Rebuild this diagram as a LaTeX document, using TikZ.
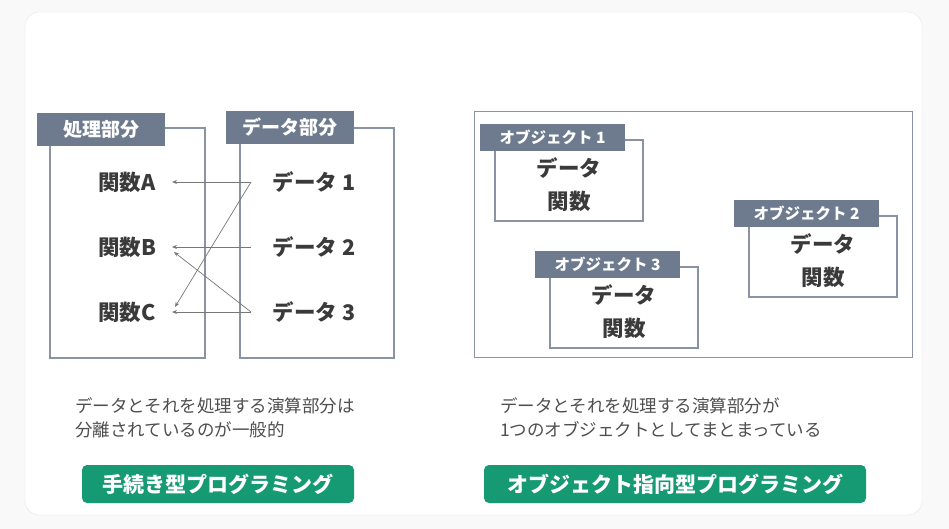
\documentclass[tikz,border=0pt]{standalone}
\usepackage{fontspec}
\setmainfont{Noto Sans CJK JP}
\newcommand\jpb{\bfseries}
\usetikzlibrary{arrows.meta}
\definecolor{lab}{HTML}{6E7B8F}
\definecolor{frm}{HTML}{8A93A3}
\definecolor{grn}{HTML}{159A74}
\definecolor{txt}{HTML}{3A3A3A}
\definecolor{arr}{HTML}{777777}
\tikzset{
 frame/.style={draw=frm,line width=1.4pt},
 labbox/.style={text=white,font=\jpb\fontsize{19}{19}\selectfont,anchor=center},
 objlab/.style={text=white,font=\jpb\fontsize{15.5}{15.5}\selectfont},
 item/.style={text=txt,font=\jpb\fontsize{21.5}{21.5}\selectfont},
 captext/.style={text=txt!90,font=\fontsize{17.5}{24}\selectfont,anchor=north west,align=left,inner sep=0},
 btntext/.style={text=white,font=\jpb\fontsize{21}{21}\selectfont},
 con/.style={draw=arr,line width=0.7pt,-{Stealth[length=5pt,width=4pt]}}
}
\begin{document}
\begin{tikzpicture}[x=1pt,y=-1pt]
\fill[white!95!gray] (0,0) rectangle (949,529);
\useasboundingbox (0,0) rectangle (949,529);
\draw[fill=white,draw=black!10,rounded corners=14pt] (25,12) rectangle (922,515);
% left
\draw[frame] (50,128) rectangle (205,358);
\fill[lab] (37,113) rectangle (165,146);
\node[labbox] (l1) at (101,129.5) {処理部分};
\draw[frame] (240,128) rectangle (394,358);
\fill[lab] (226,111) rectangle (354,144);
\node[labbox] (l2) at (290,127.5) {データ部分};
\node[item] (fa) at (127,182) {関数A};
\node[item] (fb) at (127,247) {関数B};
\node[item] (fc) at (127,312) {関数C};
\node[item] (d1) at (314,182) {データ 1};
\node[item] (d2) at (314,247) {データ 2};
\node[item] (d3) at (314,312) {データ 3};
\coordinate (s1) at (251,182);\coordinate (s2) at (251,247);\coordinate (s3) at (251,312);
\coordinate (ea) at (172,182);\coordinate (eb) at (172,247);\coordinate (ec) at (172,312);
\coordinate (eb2) at (174,252);\coordinate (ec2) at (175,307);
\draw[con] (s1) -- (ea);
\draw[con] (s2) -- (eb);
\draw[con] (s3) -- (ec);
\draw[con] (s1) -- (ec2);
\draw[con] (s3) -- (eb2);
% right
\draw[frame,line width=1pt] (474,112) rectangle (912,357);
\foreach \n/\x/\y in {1/480/124,2/734/200,3/535/251}{
 \draw[frame] (\x+15,\y+16) rectangle (\x+163,\y+97);
 \fill[lab] (\x,\y) rectangle (\x+145,\y+27);
 \node[objlab] (o\n) at (\x+72.5,\y+13.5) {オブジェクト \n};
 \node[item] (od\n) at (\x+89,\y+44) {データ};
 \node[item] (of\n) at (\x+89,\y+77) {関数};
}
% captions
\node[captext] (c1) at (75,397) {データとそれを処理する演算部分は\\分離されているのが一般的};
\node[captext] (c2) at (500,397) {データとそれを処理する演算部分が\\1つのオブジェクトとしてまとまっている};
\fill[grn,rounded corners=5pt] (82,465) rectangle (354,503);
\node[btntext] (b1) at (218,484) {手続き型プログラミング};
\fill[grn,rounded corners=5pt] (484,465) rectangle (866,503);
\node[btntext] (b2) at (675,484) {オブジェクト指向型プログラミング};
\end{tikzpicture}
\end{document}
